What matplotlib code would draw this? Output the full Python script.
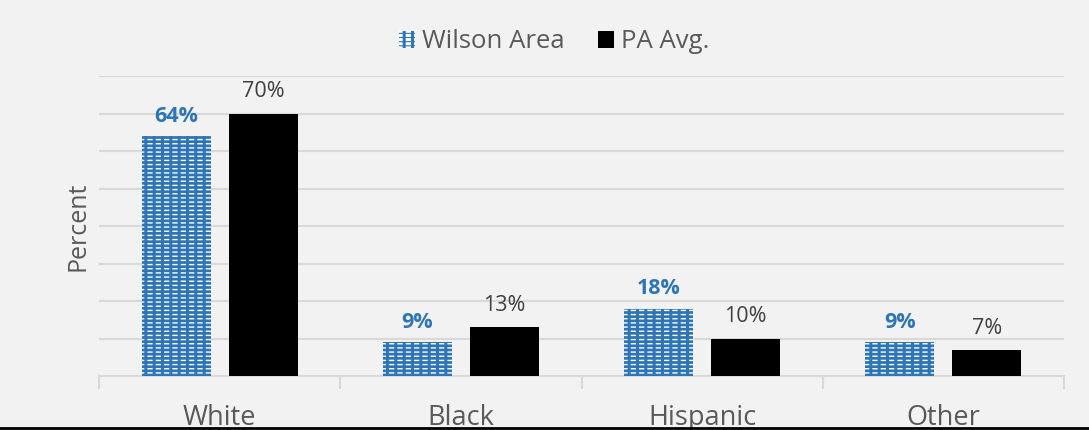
import matplotlib.pyplot as plt
from matplotlib.legend_handler import HandlerTuple
import numpy as np

categories = ['White', 'Black', 'Hispanic', 'Other']
wilson = [64, 9, 18, 9]
pa_avg = [70, 13, 10, 7]

plt.rcParams['font.family'] = ['Open Sans', 'DejaVu Sans']

blue = '#2E75B6'
grid_c = '#D9D9D9'
text_c = '#595959'

fig = plt.figure(figsize=(10.89, 4.30), dpi=100, facecolor='#F2F2F2')
ax = fig.add_axes([99 / 1089, 1 - 376 / 430, 965 / 1089, 300 / 430])
ax.set_facecolor('#F2F2F2')

x = np.arange(len(categories))
w = 0.286
# blue bars with white dashes (white lines broken by blue vertical hatch)
plt.rcParams['hatch.linewidth'] = 1.0
b1 = ax.bar(x - 0.18, wilson, w, color=blue, edgecolor='white', linewidth=0,
            hatch='----', zorder=3)
plt.rcParams['hatch.linewidth'] = 2.2
b1o = ax.bar(x - 0.18, wilson, w, fill=False, edgecolor=blue, linewidth=0,
             hatch='||', zorder=3.5)
b2 = ax.bar(x + 0.18, pa_avg, w, color='black', zorder=3)

for rect, v in zip(b1, wilson):
    ax.text(rect.get_x() + rect.get_width() / 2, v + 2.5, f'{v}%', ha='center', va='bottom',
            fontsize=15.5, fontweight='bold', color=blue)
for rect, v in zip(b2, pa_avg):
    ax.text(rect.get_x() + rect.get_width() / 2, v + 3.0, f'{v}%', ha='center', va='bottom',
            fontsize=15.5, color='#404040')

ax.set_xlim(-0.5, 3.5)
ax.set_ylim(0, 80)
ax.set_yticks(range(0, 81, 10))
ax.yaxis.grid(True, color=grid_c, linewidth=1.5, zorder=0)
ax.tick_params(axis='y', length=0, labelleft=False)
ax.set_xticks(x)
ax.set_xticklabels(categories, fontsize=19.5, color=text_c)
ax.tick_params(axis='x', which='major', length=0, pad=20)
ax.set_xticks(np.arange(-0.5, 4, 1), minor=True)
ax.tick_params(axis='x', which='minor', length=9, width=1.5, color=grid_c)
for s in ['top', 'right', 'left']:
    ax.spines[s].set_visible(False)
ax.spines['bottom'].set_color(grid_c)
ax.spines['bottom'].set_linewidth(1.5)

ax.set_ylabel('Percent', fontsize=18, color=text_c, labelpad=6)

fig.legend([(b1[0], b1o[0]), b2[0]], ['Wilson Area', 'PA Avg.'],
           handler_map={tuple: HandlerTuple(ndivide=1)},
           loc='center', bbox_to_anchor=(0.5 + 10 / 1089, 1 - 42 / 430), ncol=2, frameon=False,
           fontsize=18.5, labelcolor=text_c, handlelength=0.6, handleheight=0.6,
           handletextpad=0.3, columnspacing=1.3)

fig.add_artist(plt.Line2D([0, 1], [0.004, 0.004], color='black', linewidth=2,
                          transform=fig.transFigure))

fig.savefig('out.png', dpi=100, facecolor=fig.get_facecolor())
